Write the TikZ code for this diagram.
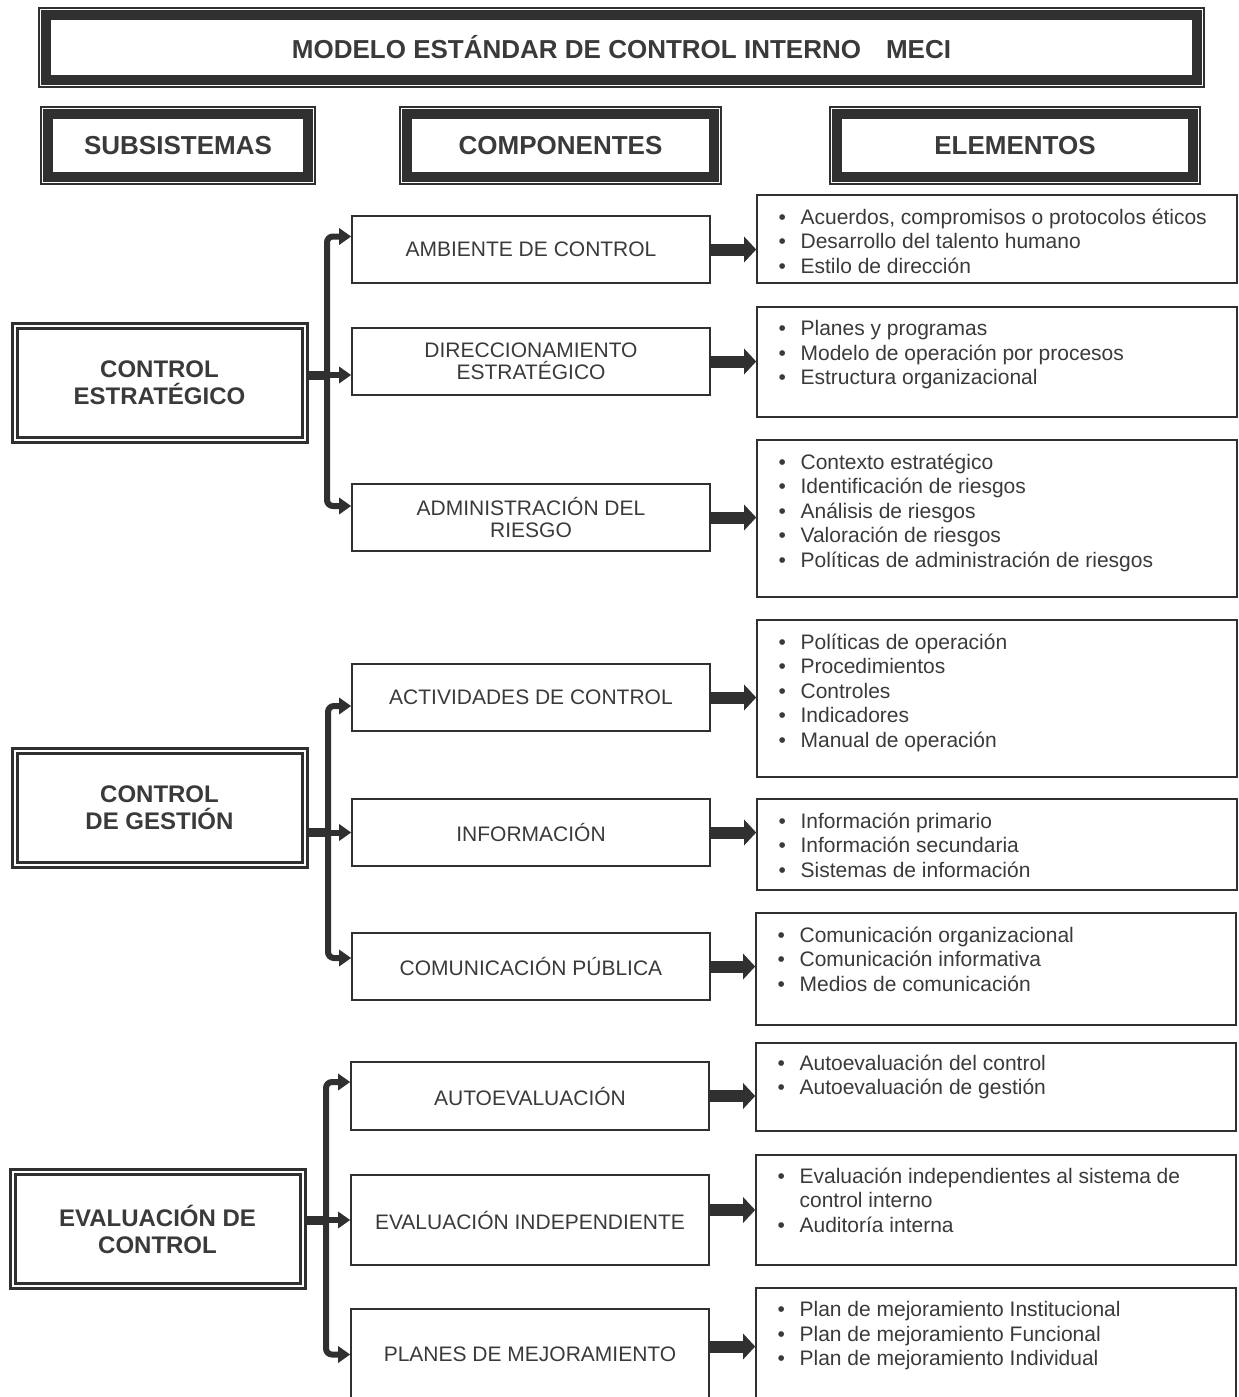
\documentclass[tikz,border=0pt]{standalone}
\usepackage{fontspec}
\setmainfont{Liberation Sans}
\usetikzlibrary{arrows.meta}
\definecolor{inkgray}{HTML}{3A3A3A}
\definecolor{framegray}{HTML}{303030}
\newcommand{\bul}{\makebox[11pt][l]{\textbullet}}

\begin{document}
\begin{tikzpicture}[x=0.5pt,y=-0.5pt,
    headbox/.style={rectangle,draw=framegray,line width=5pt,text=inkgray,font=\fontsize{13}{15}\selectfont\bfseries},
    thinframe/.style={draw=framegray,line width=0.8pt},
    subbox/.style={rectangle,draw=framegray,double=white,line width=1.5pt,double distance=1pt,text=inkgray,align=center,font=\fontsize{12}{13.5}\selectfont\bfseries,minimum width=145pt,minimum height=57pt},
    compbox/.style={rectangle,draw=framegray,line width=0.8pt,text=inkgray,align=center,font=\fontsize{10.5}{11}\selectfont,minimum width=179pt},
    elembox/.style={rectangle,draw=framegray,line width=0.8pt,minimum width=240pt},
    itemlist/.style={anchor=north west,inner sep=0pt,text=inkgray,align=left,font=\fontsize{10.5}{12.25}\selectfont},
    busline/.style={draw=framegray,line width=3pt,rounded corners=3pt,-{Triangle[length=6pt,width=8pt]}},
    stubline/.style={draw=framegray,line width=4.5pt},
    fatarrow/.style={draw=framegray,line width=6pt,-{Triangle[length=6pt,width=12.5pt]}}
  ]

      \useasboundingbox (0,0) rectangle (1238,1397);
      \clip (0,0) rectangle (1238,1397);

      \node[headbox,minimum width=575.7pt,minimum height=32.7pt] (T) at (621.5,47.5){MODELO ESTÁNDAR DE CONTROL INTERNO\hspace{12.5pt}MECI};
      \node[headbox,minimum width=130.2pt,minimum height=31.7pt] (sub) at (178,145.5){SUBSISTEMAS};
      \node[headbox,minimum width=153.7pt,minimum height=31.7pt] (comp) at (560.5,145.5){COMPONENTES};
      \node[headbox,minimum width=178.2pt,minimum height=31.7pt] (elem) at (1015,145.5){ELEMENTOS};
      \foreach \h in {T,sub,comp,elem}
        \draw[thinframe] ([shift={(-1pt,1pt)}]\h.north west) rectangle ([shift={(1pt,-1pt)}]\h.south east);

      \node[subbox] (s1) at (159.5,383){CONTROL\\ESTRATÉGICO};
      \node[subbox] (s2) at (159.5,808){CONTROL\\DE GESTIÓN};
      \node[subbox] (s3) at (157.5,1229){EVALUACIÓN DE\\CONTROL};

      \node[compbox,minimum height=33.5pt] (c1) at (531,249.5){AMBIENTE DE CONTROL};
      \node[compbox,minimum height=33.5pt] (c2) at (531,361.5){DIRECCIONAMIENTO\\ESTRATÉGICO};
      \node[compbox,minimum height=33.5pt] (c3) at (531,517.5){ADMINISTRACIÓN DEL\\RIESGO};
      \node[compbox,minimum height=33.5pt] (c4) at (531,697.5){ACTIVIDADES DE CONTROL};
      \node[compbox,minimum height=33.5pt] (c5) at (531,832.5){INFORMACIÓN};
      \node[compbox,minimum height=33.5pt] (c6) at (531,966.5){COMUNICACIÓN PÚBLICA};
      \node[compbox,minimum height=34pt] (c7) at (530,1096){AUTOEVALUACIÓN};
      \node[compbox,minimum height=45pt] (c8) at (530,1220){EVALUACIÓN INDEPENDIENTE};
      \node[compbox,minimum height=45.5pt] (c9) at (530,1354.5){PLANES DE MEJORAMIENTO};

      \node[elembox,minimum height=44pt] (e1) at (997,239){};
      \node[elembox,minimum height=55pt] (e2) at (997,362){};
      \node[elembox,minimum height=78.5pt] (e3) at (997,518.5){};
      \node[elembox,minimum height=78.5pt] (e4) at (997,698.5){};
      \node[elembox,minimum height=45.5pt] (e5) at (997,844.5){};
      \node[elembox,minimum height=56pt] (e6) at (996,969){};
      \node[elembox,minimum height=44pt] (e7) at (996,1087){};
      \node[elembox,minimum height=55pt] (e8) at (996,1210){};
      \node[elembox,minimum height=71pt] (e9) at (996,1359){};

      \node[itemlist] (l1) at ([xshift=11pt,yshift=-7pt]e1.north west){\bul Acuerdos, compromisos o protocolos éticos\\\bul Desarrollo del talento humano\\\bul Estilo de dirección};
      \node[itemlist] (l2) at ([xshift=11pt,yshift=-7pt]e2.north west){\bul Planes y programas\\\bul Modelo de operación por procesos\\\bul Estructura organizacional};
      \node[itemlist] (l3) at ([xshift=11pt,yshift=-7pt]e3.north west){\bul Contexto estratégico\\\bul Identificación de riesgos\\\bul Análisis de riesgos\\\bul Valoración de riesgos\\\bul Políticas de administración de riesgos};
      \node[itemlist] (l4) at ([xshift=11pt,yshift=-7pt]e4.north west){\bul Políticas de operación\\\bul Procedimientos\\\bul Controles\\\bul Indicadores\\\bul Manual de operación};
      \node[itemlist] (l5) at ([xshift=11pt,yshift=-7pt]e5.north west){\bul Información primario\\\bul Información secundaria\\\bul Sistemas de información};
      \node[itemlist] (l6) at ([xshift=11pt,yshift=-7pt]e6.north west){\bul Comunicación organizacional\\\bul Comunicación informativa\\\bul Medios de comunicación};
      \node[itemlist] (l7) at ([xshift=11pt,yshift=-6pt]e7.north west){\bul Autoevaluación del control\\\bul Autoevaluación de gestión};
      \node[itemlist] (l8) at ([xshift=11pt,yshift=-6.5pt]e8.north west){\bul Evaluación independientes al sistema de\\\hspace*{11pt}control interno\\\bul Auditoría interna};
      \node[itemlist] (l9) at ([xshift=11pt,yshift=-7pt]e9.north west){\bul Plan de mejoramiento Institucional\\\bul Plan de mejoramiento Funcional\\\bul Plan de mejoramiento Individual};

      \coordinate (b1) at (327,0);
      \coordinate (m1) at ([yshift=-6.75pt]c2.west);
      \draw[stubline] (s1.east |- m1) -- (b1 |- m1);
      \draw[busline] (b1 |- m1) -- (m1);
      \draw[busline] (b1 |- m1) |- ([yshift=6.5pt]c1.west);
      \draw[busline] (b1 |- m1) |- ([yshift=5.75pt]c3.west);

      \coordinate (b2) at (328,0);
      \draw[stubline] (s2.east |- c5.west) -- (b2 |- c5.west);
      \draw[busline] (b2 |- c5.west) -- (c5.west);
      \draw[busline] (b2 |- c5.west) |- ([yshift=-4.25pt]c4.west);
      \draw[busline] (b2 |- c5.west) |- ([yshift=4.25pt]c6.west);

      \coordinate (b3) at (326,0);
      \draw[stubline] (s3.east |- c8.west) -- (b3 |- c8.west);
      \draw[busline] (b3 |- c8.west) -- (c8.west);
      \draw[busline] (b3 |- c8.west) |- ([yshift=7pt]c7.west);
      \draw[busline] (b3 |- c8.west) |- (c9.west);

      \draw[fatarrow] (c1.east) -- (c1.east -| e1.west);
      \draw[fatarrow] (c2.east) -- (c2.east -| e2.west);
      \draw[fatarrow] (c3.east) -- (c3.east -| e3.west);
      \draw[fatarrow] (c4.east) -- (c4.east -| e4.west);
      \draw[fatarrow] (c5.east) -- (c5.east -| e5.west);
      \draw[fatarrow] (c6.east) -- (c6.east -| e6.west);
      \draw[fatarrow] (c7.east) -- (c7.east -| e7.west);
      \draw[fatarrow] ([yshift=5pt]c8.east) -- ([yshift=5pt]c8.east -| e8.west);
      \draw[fatarrow] ([yshift=4pt]c9.east) -- ([yshift=4pt]c9.east -| e9.west);

\end{tikzpicture}
\end{document}
